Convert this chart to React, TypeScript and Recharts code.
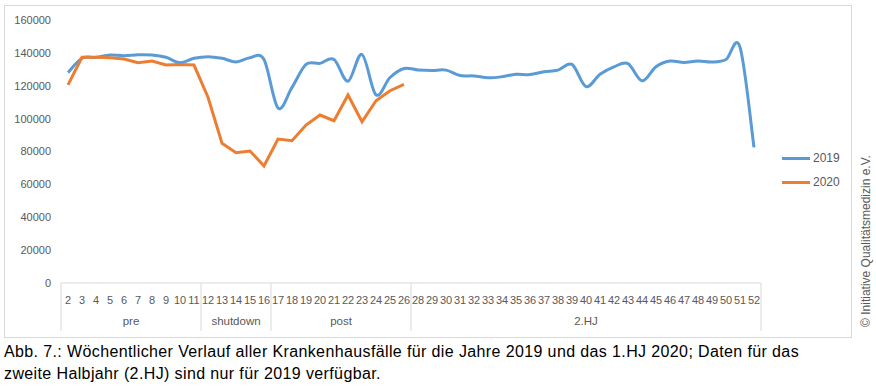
import { LineChart, Line, XAxis, YAxis } from 'recharts';

const WEEKS = [
  '2', '3', '4', '5', '6', '7', '8', '9', '10', '11',
  '12', '13', '14', '15', '16',
  '17', '18', '19', '20', '21', '22', '23', '24', '25', '26',
  '28', '29', '30', '31', '32', '33', '34', '35', '36', '37', '38', '39', '40',
  '41', '42', '43', '44', '45', '46', '47', '48', '49', '50', '51', '52',
];

const GROUP_NAMES = ['pre', 'shutdown', 'post', '2.HJ'];
const GROUP_SIZES = [10, 5, 10, 25];

const CASES_2019 = [
  128000, 136700, 137300, 138700, 138300, 138900, 138700, 137300, 134000, 136700,
  137700, 136700, 134500, 137000, 136000,
  106500, 119000, 133000, 133600, 136000, 122800, 139000, 114500, 125000, 130500,
  129600, 129300, 129500, 126200, 126000, 124800, 125500, 127000, 126800, 128500,
  129500, 133000, 119500, 127000, 131500, 133500, 123000, 131600, 135000, 134200,
  135000, 134400, 136000, 143500, 82500,
];

const CASES_2020 = [
  120500, 137300, 137300, 137000, 136300, 134000, 135000, 132600, 133000, 132600,
  113000, 85000, 79300, 80300, 71200,
  87600, 86600, 96100, 102200, 98700, 114400, 98100, 110900, 117000, 120900,
];

const Y_TICKS = [0, 20000, 40000, 60000, 80000, 100000, 120000, 140000, 160000];

const BLUE = '#5B9BD5';
const ORANGE = '#ED7D31';
const TEXT = '#595959';
const LINE_GRAY = '#D9D9D9';
const FONT = '"Liberation Sans", Arial, sans-serif';

const PLOT_W = 700;
const BAND = PLOT_W / WEEKS.length;

const data = WEEKS.map((week, i) => ({
  week,
  y2019: CASES_2019[i],
  y2020: i < CASES_2020.length ? CASES_2020[i] : null,
}));

// first index of every group
const groupStarts: number[] = [];
GROUP_SIZES.reduce((acc, n) => {
  groupStarts.push(acc);
  return acc + n;
}, 0);

// smoothing like Excel's "smoothed line" (catmull-rom style bezier)
const excelSmooth = (context: any) => {
  let pts: number[][] = [];
  return {
    areaStart() {},
    areaEnd() {},
    lineStart() {
      pts = [];
    },
    point(x: number, y: number) {
      pts.push([+x, +y]);
    },
    lineEnd() {
      const n = pts.length;
      if (!n) return;
      context.moveTo(pts[0][0], pts[0][1]);
      for (let i = 0; i < n - 1; i++) {
        const p0 = pts[Math.max(i - 1, 0)];
        const p1 = pts[i];
        const p2 = pts[i + 1];
        const p3 = pts[Math.min(i + 2, n - 1)];
        context.bezierCurveTo(
          p1[0] + (p2[0] - p0[0]) / 6,
          p1[1] + (p2[1] - p0[1]) / 6,
          p2[0] - (p3[0] - p1[0]) / 6,
          p2[1] - (p3[1] - p1[1]) / 6,
          p2[0],
          p2[1]
        );
      }
    },
  };
};

function WeekTick(props: any) {
  const { x, y, payload, index } = props;
  const g = groupStarts.indexOf(index);
  const isLast = index === WEEKS.length - 1;
  return (
    <g>
      <text x={x} y={y + 21} textAnchor="middle" fontSize={11} fill={TEXT} fontFamily={FONT}>
        {payload.value}
      </text>
      {g >= 0 && (
        <>
          <line x1={x - BAND / 2} y1={y} x2={x - BAND / 2} y2={y + 48} stroke={LINE_GRAY} />
          <text
            x={x - BAND / 2 + (GROUP_SIZES[g] * BAND) / 2}
            y={y + 42}
            textAnchor="middle"
            fontSize={11.5}
            fill={TEXT}
            fontFamily={FONT}
          >
            {GROUP_NAMES[g]}
          </text>
        </>
      )}
      {isLast && <line x1={x + BAND / 2} y1={y} x2={x + BAND / 2} y2={y + 48} stroke={LINE_GRAY} />}
    </g>
  );
}

function LegendBox() {
  const items = [
    { name: '2019', color: BLUE },
    { name: '2020', color: ORANGE },
  ];
  return (
    <div style={{ fontFamily: FONT, fontSize: 12, color: TEXT }}>
      {items.map((it) => (
        <div key={it.name} style={{ display: 'flex', alignItems: 'center', height: 24 }}>
          <span style={{ display: 'inline-block', width: 28, height: 3, background: it.color, marginRight: 3 }} />
          <span>{it.name}</span>
        </div>
      ))}
    </div>
  );
}

export default function App() {
  return (
    <div style={{ position: 'absolute', left: 0, top: 0, width: 876, height: 386, background: '#fff' }}>
      <div
        style={{
          position: 'absolute',
          left: 4,
          top: 5,
          width: 846,
          height: 331,
          border: `1px solid ${LINE_GRAY}`,
        }}
      />
      <div style={{ position: 'absolute', left: 0, top: 0 }}>
        <LineChart width={876} height={340} data={data} margin={{ top: 20, right: 115, bottom: 7, left: 4 }}>
          <XAxis
            dataKey="week"
            scale="band"
            interval={0}
            height={50}
            tickSize={0}
            tickMargin={0}
            axisLine={{ stroke: LINE_GRAY }}
            tickLine={false}
            tick={<WeekTick />}
          />
          <YAxis
            width={57}
            domain={[0, 160000]}
            ticks={Y_TICKS}
            axisLine={false}
            tickLine={false}
            tickSize={0}
            tickMargin={10}
            tick={{ fontSize: 11, fill: TEXT, fontFamily: FONT }}
          />
          <Line
            dataKey="y2019"
            name="2019"
            type={excelSmooth as any}
            stroke={BLUE}
            strokeWidth={3}
            dot={false}
            isAnimationActive={false}
          />
          <Line
            dataKey="y2020"
            name="2020"
            type="linear"
            stroke={ORANGE}
            strokeWidth={3}
            dot={false}
            isAnimationActive={false}
          />
        </LineChart>
      </div>
      <div style={{ position: 'absolute', left: 782, top: 146 }}>
        <LegendBox />
      </div>
      <div
        style={{
          position: 'absolute',
          left: 866,
          top: 241,
          transform: 'translate(-50%, -50%) rotate(-90deg)',
          whiteSpace: 'nowrap',
          fontFamily: FONT,
          fontSize: 12,
          color: TEXT,
        }}
      >
        © Initiative Qualitätsmedizin e.V.
      </div>
      <div
        style={{
          position: 'absolute',
          left: 4,
          top: 341,
          fontFamily: FONT,
          fontSize: 16,
          letterSpacing: 0.38,
          lineHeight: '22px',
          color: '#000',
          whiteSpace: 'nowrap',
        }}
      >
        Abb. 7.: Wöchentlicher Verlauf aller Krankenhausfälle für die Jahre 2019 und das 1.HJ 2020; Daten für das
        <br />
        zweite Halbjahr (2.HJ) sind nur für 2019 verfügbar.
      </div>
    </div>
  );
}
